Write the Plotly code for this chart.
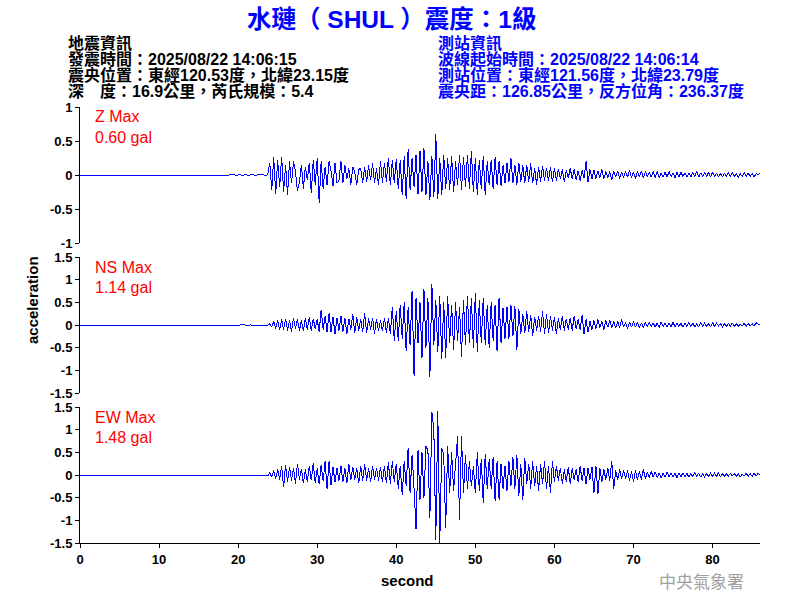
import numpy as np
import plotly.graph_objects as go

# ---------------- data ----------------
title_text = "水璉（ SHUL ）震度：1級"
info_left = ["地震資訊", "發震時間：2025/08/22 14:06:15",
             "震央位置：東經120.53度，北緯23.15度", "深　度：16.9公里，芮氏規模：5.4"]
info_right = ["測站資訊", "波線起始時間：2025/08/22 14:06:14",
              "測站位置：東經121.56度，北緯23.79度", "震央距：126.85公里，反方位角：236.37度"]
channels = ["Z", "NS", "EW"]
max_labels = ["0.60 gal", "1.14 gal", "1.48 gal"]
y_ranges = [(-1, 1), (-1.5, 1.5), (-1.5, 1.5)]
z_ticks = [-1, -0.5, 0, 0.5, 1]
z_ticktext = ["-1", "-0.5", "0", "0.5", "1"]
h_ticks = [-1.5, -1, -0.5, 0, 0.5, 1, 1.5]
h_ticktext = ["-1.5", "-1", "-0.5", "0", "0.5", "1", "1.5"]
x_ticks = [0, 10, 20, 30, 40, 50, 60, 70, 80]
x_range = (0, 86)

record_start = 18.0   # seconds, first sample of the record drawn below
sample_dt = 0.25      # seconds between samples

z_vals = [
    0, 0.01, 0, -0.01,   0.01, 0, 0.01, -0.01,   0, 0.01, -0.01, 0,   0.01, -0.01, 0, 0.01,
    0, -0.01, 0.01, 0,   0.01, 0, -0.01, 0.01,
    0.18, -0.22, 0.26, -0.28,   0.22, -0.18, 0.27, -0.25,   0.15, -0.29, 0.2, -0.12,
    0.2, 0.05, -0.23, -0.1,   0.15, -0.2, 0.12, -0.08,   0.18, -0.26, 0.22, -0.14,
    0.25, -0.41, 0.2, -0.2,   0.12, -0.15, 0.2, 0.06,   -0.16, 0.18, -0.12, -0.08,
    0.2, -0.12, 0.15, -0.06,   0.1, -0.15, 0.12, 0.04,   -0.15, 0.08, 0.1, -0.12,
    0.12, -0.1, 0.14, -0.08,   0.18, -0.12, 0.1, -0.15,   0.2, -0.12, 0.18, -0.1,
    0.25, -0.15, 0.22, -0.12,   0.24, -0.2, 0.22, -0.3,   0.28, -0.35, 0.38, -0.22,
    0.25, -0.18, 0.3, -0.28,   0.35, -0.25, 0.4, -0.3,   0.2, -0.36, 0.28, -0.33,
    0.6, -0.35, 0.25, -0.3,   0.3, -0.2, 0.25, -0.22,   0.28, -0.25, 0.2, -0.15,
    0.3, -0.22, 0.27, -0.18,   0.3, -0.2, 0.35, -0.25,   0.25, -0.3, 0.22, -0.2,
    0.28, -0.3, 0.2, -0.15,   0.22, -0.2, 0.26, -0.15,   0.2, -0.16, 0.14, -0.12,
    0.18, -0.1, 0.25, -0.12,   0.15, -0.14, 0.18, -0.1,   0.14, -0.12, 0.15, -0.1,
    0.17, -0.12, 0.1, -0.14,   0.12, -0.1, 0.13, -0.08,   0.1, -0.08, 0.12, -0.1,
    0.1, -0.08, 0.09, -0.06,   0.08, -0.1, 0.07, -0.05,   0.1, -0.06, 0.08, -0.07,
    0.06, -0.08, 0.07, -0.04,   0.2, -0.1, 0.08, -0.06,   0.07, -0.05, 0.06, -0.04,
    0.08, -0.06, 0.05, -0.04,   0.05, -0.07, 0.06, -0.03,   0.06, -0.05, 0.04, -0.04,
    0.05, -0.03, 0.07, -0.04,   0.04, -0.05, 0.05, -0.03,   0.06, -0.04, 0.05, -0.03,
    0.04, -0.03, 0.05, -0.04,   0.05, -0.04, 0.03, -0.03,   0.04, -0.03, 0.05, -0.02,
    0.03, -0.04, 0.04, -0.03,   0.04, -0.02, 0.03, -0.03,   0.03, -0.03, 0.04, -0.02,
    0.05, -0.03, 0.03, -0.02,   0.03, -0.02, 0.04, -0.03,   0.04, -0.02, 0.03, -0.03,
    0.02, -0.03, 0.03, -0.02,   0.03, -0.02, 0.04, -0.02,   0.02, -0.03, 0.02, -0.02,
    0.03, -0.02, 0.03, -0.02,   0.02, -0.03, 0.02, 0.01,
    0.02,
]

ns_vals = [
    0, 0, -0.01, 0,   0, 0, 0, 0,   0, 0, 0.01, 0,   0, -0.01, 0, 0,   0, 0, 0, 0,
    -0.01, 0, 0, -0.01,
    0.03, -0.05, 0.08, -0.08,   0.1, -0.1, 0.12, -0.1,   0.14, -0.12, 0.1, -0.15,
    0.16, -0.08, 0.12, -0.12,   0.1, -0.14, 0.16, -0.1,   0.18, -0.12, 0.14, -0.08,
    0.12, -0.15, 0.34, -0.1,   0.2, -0.16, 0.26, -0.15,   0.18, -0.2, 0.16, -0.12,
    0.2, -0.15, 0.15, -0.2,   0.14, -0.1, 0.24, -0.18,   0.18, -0.12, 0.12, -0.15,
    0.26, -0.18, 0.15, -0.1,   0.16, -0.2, 0.14, -0.12,   0.1, -0.14, 0.16, -0.18,
    0.15, -0.2, 0.4, -0.35,   0.3, -0.35, 0.45, -0.3,   0.5, -0.58, 0.4, -0.45,
    0.76, -1.13, 0.6, -0.4,   0.5, -0.73, 0.79, -0.5,   0.6, -1.15, 0.91, -0.45,
    0.55, -0.6, 0.65, -0.76,   0.5, -0.72, 0.65, -0.4,   0.45, -0.55, 0.5, -0.35,
    0.4, -0.7, 0.55, -0.45,   0.65, -0.4, 0.6, -0.5,   0.7, -0.6, 0.55, -0.4,
    0.6, -0.45, 0.45, -0.5,   0.5, -0.35, 0.45, -0.58,   0.6, -0.4, 0.38, -0.3,
    0.4, -0.3, 0.45, -0.25,   0.42, -0.55, 0.35, -0.2,   0.25, -0.18, 0.3, -0.15,
    0.22, -0.25, 0.18, -0.12,   0.2, -0.15, 0.3, -0.2,   0.25, -0.18, 0.2, -0.12,
    0.18, -0.2, 0.15, -0.1,   0.2, -0.12, 0.14, -0.1,   0.16, -0.12, 0.2, -0.08,
    0.12, -0.1, 0.22, -0.2,   0.12, -0.15, 0.08, -0.1,   0.1, -0.08, 0.12, -0.06,
    0.08, -0.1, 0.1, -0.05,   0.1, -0.06, 0.08, -0.07,   0.08, -0.06, 0.12, -0.05,
    0.06, -0.08, 0.07, -0.05,   0.08, -0.05, 0.06, -0.06,   0.05, -0.07, 0.06, -0.04,
    0.06, -0.04, 0.05, -0.05,   0.05, -0.06, 0.07, -0.03,   0.04, -0.05, 0.05, -0.04,
    0.06, -0.04, 0.04, -0.03,   0.04, -0.05, 0.05, -0.03,   0.05, -0.03, 0.04, -0.04,
    0.03, -0.04, 0.05, -0.03,   0.04, -0.03, 0.03, -0.04,   0.05, -0.03, 0.04, -0.02,
    0.03, -0.04, 0.03, -0.03,   0.04, -0.02, 0.04, -0.03,   0.03, -0.03, 0.02, -0.02,
    0.04, -0.03, 0.03, -0.02,   0.03, -0.02, 0.05, 0.02,
    0.02,
]

ew_vals = [
    0, 0, 0, 0,   0, 0, 0, 0,   0, 0, 0, 0,   0, 0, 0, -0.01,   0, 0, 0, 0,
    0, 0, 0, -0.02,
    0.06, -0.05, 0.1, -0.08,   0.12, -0.1, 0.2, -0.27,   0.22, -0.15, 0.18, -0.12,
    0.16, -0.2, 0.25, -0.1,   0.14, -0.18, 0.12, -0.15,   0.2, -0.12, 0.26, -0.18,
    0.15, -0.2, 0.22, -0.14,   0.3, -0.3, 0.3, -0.22,   0.18, -0.16, 0.15, -0.12,
    0.2, -0.15, 0.16, -0.18,   0.25, -0.12, 0.18, -0.1,   0.15, -0.18, 0.2, -0.14,
    0.24, -0.12, 0.15, -0.16,   0.2, -0.1, 0.16, -0.12,   0.18, -0.15, 0.2, -0.18,
    0.28, -0.2, 0.3, -0.15,   0.25, -0.3, 0.2, -0.45,   0.3, -0.25, 0.6, -0.4,
    0.45, -0.3, -1.2, 0.55,   -0.55, 0.5, -0.5, 0.63,   0.55, -0.95, 1.4, 1.0,
    -1.43, 1.42, -1.5, 0.6,   0.45, -1.17, 0.65, -0.4,   0.5, -0.35, 0.3, 0.85,
    -1.0, 0.85, -0.4, 0.45,   -0.3, 0.3, -0.25, 0.2,   -0.4, 0.5, -0.35, 0.35,
    -0.62, 0.47, -0.3, 0.35,   -0.3, 0.4, -0.58, 0.3,   -0.54, 0.25, -0.3, 0.2,
    -0.35, 0.3, -0.25, 0.4,   -0.3, 0.44, -0.47, 0.25,   -0.56, 0.37, -0.2, 0.25,
    -0.3, 0.3, -0.25, 0.2,   -0.35, 0.25, -0.2, 0.3,   -0.3, 0.2, -0.4, 0.3,
    -0.15, 0.2, -0.12, 0.15,   -0.2, 0.12, -0.15, 0.18,   -0.2, 0.15, -0.1, 0.12,
    -0.15, 0.2, -0.12, 0.15,   -0.2, 0.15, -0.1, 0.18,   -0.4, 0.2, -0.42, 0.15,
    -0.15, 0.12, -0.1, 0.15,   -0.12, 0.3, -0.3, 0.1,   -0.1, 0.12, -0.08, 0.1,
    -0.08, 0.1, -0.12, 0.08,   -0.15, 0.1, -0.1, 0.08,   -0.1, 0.12, -0.08, 0.06,
    -0.06, 0.08, -0.05, 0.07,   -0.06, 0.05, -0.07, 0.05,   -0.05, 0.06, -0.04, 0.05,
    -0.05, 0.04, -0.06, 0.05,   -0.04, 0.05, -0.04, 0.04,   -0.05, 0.03, -0.04, 0.05,
    -0.03, 0.04, -0.05, 0.03,   -0.04, 0.03, -0.03, 0.04,   -0.03, 0.04, -0.03, 0.05,
    -0.04, 0.03, -0.03, 0.03,   -0.03, 0.04, -0.02, 0.03,   -0.03, 0.03, -0.04, 0.02,
    -0.02, 0.04, -0.03, 0.03,   -0.03, 0.04, -0.02, 0.03,
    0.01,
]

# ---------------- figure ----------------
W, H = 800, 600
ML, MT = 80, 107
PW, PH = 680, 436
MR, MB = W - ML - PW, H - MT - PH

def px(x):
    """screen pixel x -> paper"""
    return (x - ML) / PW

def py(y):
    """screen pixel y -> paper"""
    return (H - MB - y) / PH

BLUE = "#0000FF"
RED = "#FF0000"
FONT = "Liberation Sans, Arial, Noto Sans CJK TC, sans-serif"
CJK = "Liberation Sans, Noto Sans CJK TC, sans-serif"

fig = go.Figure()
series = [z_vals, ns_vals, ew_vals]
yaxes = ["y", "y2", "y3"]
for vals, ya in zip(series, yaxes):
    t = record_start + sample_dt * np.arange(len(vals))
    xs = np.concatenate([[0.0], t])
    ys = np.concatenate([[0.0], np.asarray(vals, dtype=float)])
    fig.add_trace(go.Scatter(x=xs, y=ys, mode="lines", xaxis="x", yaxis=ya,
                             line=dict(color=BLUE, width=1),
                             showlegend=False, hoverinfo="skip"))

tickfont = dict(family=FONT, size=13, color="black", weight="bold")
ycommon = dict(showgrid=False, zeroline=False, showline=True, linecolor="black",
               linewidth=1, ticks="outside", ticklen=4, tickcolor="black",
               tickfont=tickfont, anchor="x", fixedrange=True)

domains = [(300 / PH, 1.0), (150 / PH, 286 / PH), (0.0, 136 / PH)]
layout_axes = {}
for i, (dom, rng) in enumerate(zip(domains, y_ranges)):
    name = "yaxis" if i == 0 else f"yaxis{i + 1}"
    if i == 0:
        tv, tt = z_ticks, z_ticktext
    else:
        tv, tt = h_ticks, h_ticktext
    layout_axes[name] = dict(ycommon, domain=list(dom), range=list(rng),
                             tickvals=tv, ticktext=tt)

fig.update_layout(
    width=W, height=H,
    margin=dict(l=ML, r=MR, t=MT, b=MB),
    paper_bgcolor="white", plot_bgcolor="white",
    xaxis=dict(range=list(x_range), anchor="y3", showgrid=False, zeroline=False,
               showline=True, linecolor="black", linewidth=1, ticks="outside",
               ticklen=4, tickcolor="black", tickvals=x_ticks, tickfont=tickfont,
               fixedrange=True),
    **layout_axes,
)

ann = []
ann.append(dict(text=title_text, x=px(245), y=py(19), xref="paper", yref="paper",
                xanchor="left", yanchor="middle", showarrow=False,
                font=dict(family=CJK, size=24.5, color=BLUE, weight="bold")))
line_y = [43.5, 59.3, 75.1, 90.9]
for txt, yy in zip(info_left, line_y):
    ann.append(dict(text=txt, x=px(66), y=py(yy), xref="paper", yref="paper",
                    xanchor="left", yanchor="middle", showarrow=False,
                    font=dict(family=CJK, size=16, color="black", weight="bold")))
for txt, yy in zip(info_right, line_y):
    ann.append(dict(text=txt, x=px(436), y=py(yy), xref="paper", yref="paper",
                    xanchor="left", yanchor="middle", showarrow=False,
                    font=dict(family=CJK, size=16, color=BLUE, weight="bold")))
label_y = [(117, 137.5), (267.5, 287.5), (417.5, 437.5)]
for ch, ml, (y1, y2) in zip(channels, max_labels, label_y):
    ann.append(dict(text=f"{ch} Max", x=px(93), y=py(y1), xref="paper", yref="paper",
                    xanchor="left", yanchor="middle", showarrow=False,
                    font=dict(family=FONT, size=16, color=RED)))
    ann.append(dict(text=ml, x=px(93), y=py(y2), xref="paper", yref="paper",
                    xanchor="left", yanchor="middle", showarrow=False,
                    font=dict(family=FONT, size=16, color=RED)))
ann.append(dict(text="acceleration", x=px(32), y=py(300), xref="paper", yref="paper",
                xanchor="center", yanchor="middle", showarrow=False, textangle=-90,
                font=dict(family=FONT, size=15, color="black", weight="bold")))
ann.append(dict(text="second", x=px(407), y=py(580), xref="paper", yref="paper",
                xanchor="center", yanchor="middle", showarrow=False,
                font=dict(family=FONT, size=15, color="black", weight="bold")))
ann.append(dict(text="中央氣象署", x=px(701), y=py(580), xref="paper", yref="paper",
                xanchor="center", yanchor="middle", showarrow=False,
                font=dict(family="Noto Sans CJK TC, sans-serif", size=17,
                          color="#A0A0A0")))
fig.update_layout(annotations=ann)

post = ("document.body.style.margin='0';"
        "document.querySelectorAll('.scatterlayer path.js-line').forEach("
        "function(p){p.style.shapeRendering='crispEdges';});")
fig.write_html("out.html", config={"displayModeBar": False}, post_script=post)
